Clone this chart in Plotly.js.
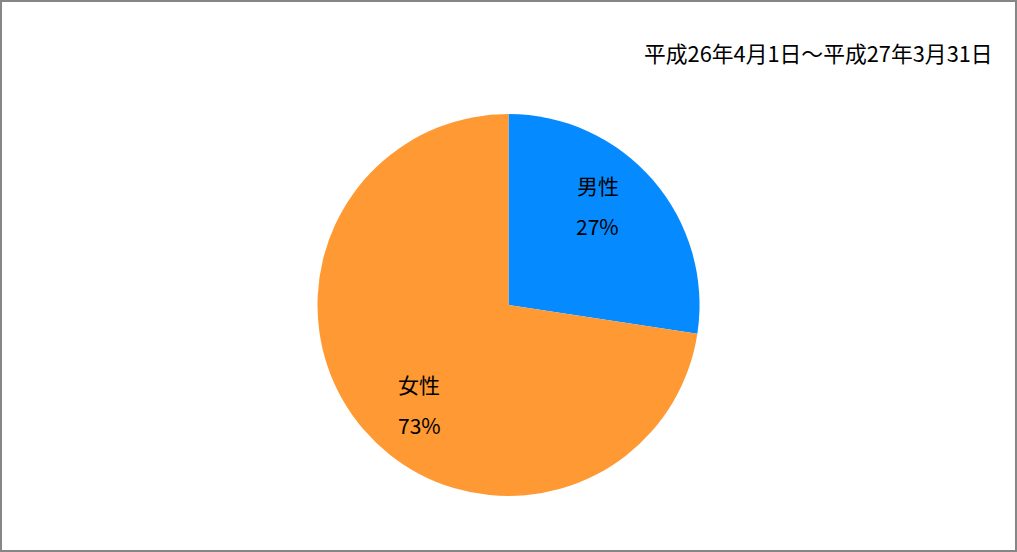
<!DOCTYPE html>
<html>
<head>
<meta charset="utf-8">
<script src="https://cdn.plot.ly/plotly-3.0.1.min.js"></script>
<style>
  html, body { margin: 0; padding: 0; background: #fff; }
  #chart { width: 1017px; height: 552px; }
</style>
</head>
<body>
<div id="chart"></div>
<script>
var labels = ['男性', '女性'];
var shares = [27.4, 72.6];
var sliceColors = ['#058bff', '#ff9933'];
var periodText = '平成26年4月1日～平成27年3月31日';

var font = '"Noto Sans CJK JP", "Noto Sans", sans-serif';
var W = 1017, H = 552;
var pieDomainY = [0.1014, 0.7935];

var trace = {
  type: 'pie',
  labels: labels,
  values: shares,
  sort: false,
  direction: 'clockwise',
  rotation: 0,
  marker: { colors: sliceColors, line: { width: 0 } },
  textinfo: 'none',
  hoverinfo: 'label+percent',
  showlegend: false,
  domain: { x: [0, 1], y: pieDomainY }
};

// slice labels placed inside each slice, worked out from the shares
var annotations = [];
var total = shares.reduce(function (a, b) { return a + b; }, 0);
var cx = 0.5, cy = (pieDomainY[0] + pieDomainY[1]) / 2;
var rPx = (pieDomainY[1] - pieDomainY[0]) * H / 2;
var cum = 0;
for (var i = 0; i < shares.length; i++) {
  var mid = (cum + shares[i] / 2) / total * 2 * Math.PI;
  cum += shares[i];
  var ang = mid - 0.13;            // a little toward the slice start, like the original
  var dx = 0.70 * rPx * Math.sin(ang);
  var dy = 0.70 * rPx * Math.cos(ang);
  var px = cx + dx / W, py = cy + dy / H;
  var pct = Math.round(shares[i] / total * 100) + '%';
  [[labels[i], 20.5], [pct, -20.5]].forEach(function (t) {
    annotations.push({
      xref: 'paper', yref: 'paper', x: px, y: py, yshift: t[1],
      xanchor: 'center', yanchor: 'middle', showarrow: false,
      text: t[0], font: { family: font, size: 21, color: '#000' }
    });
  });
}
annotations.push({
  xref: 'paper', yref: 'paper',
  x: 995 / W, y: 1 - 53 / H, xanchor: 'right', yanchor: 'middle',
  text: periodText, showarrow: false,
  font: { family: font, size: 21.8, color: '#000' }
});

var layout = {
  width: W,
  height: H,
  margin: { l: 0, r: 0, t: 0, b: 0 },
  paper_bgcolor: '#fff',
  font: { family: font },
  annotations: annotations,
  shapes: [{
    type: 'rect', xref: 'paper', yref: 'paper',
    x0: 0.001, x1: 0.999, y0: 0.002, y1: 0.998,
    line: { color: '#868686', width: 2 }
  }]
};

Plotly.newPlot('chart', [trace], layout, { displayModeBar: false, staticPlot: true });
</script>
</body>
</html>
